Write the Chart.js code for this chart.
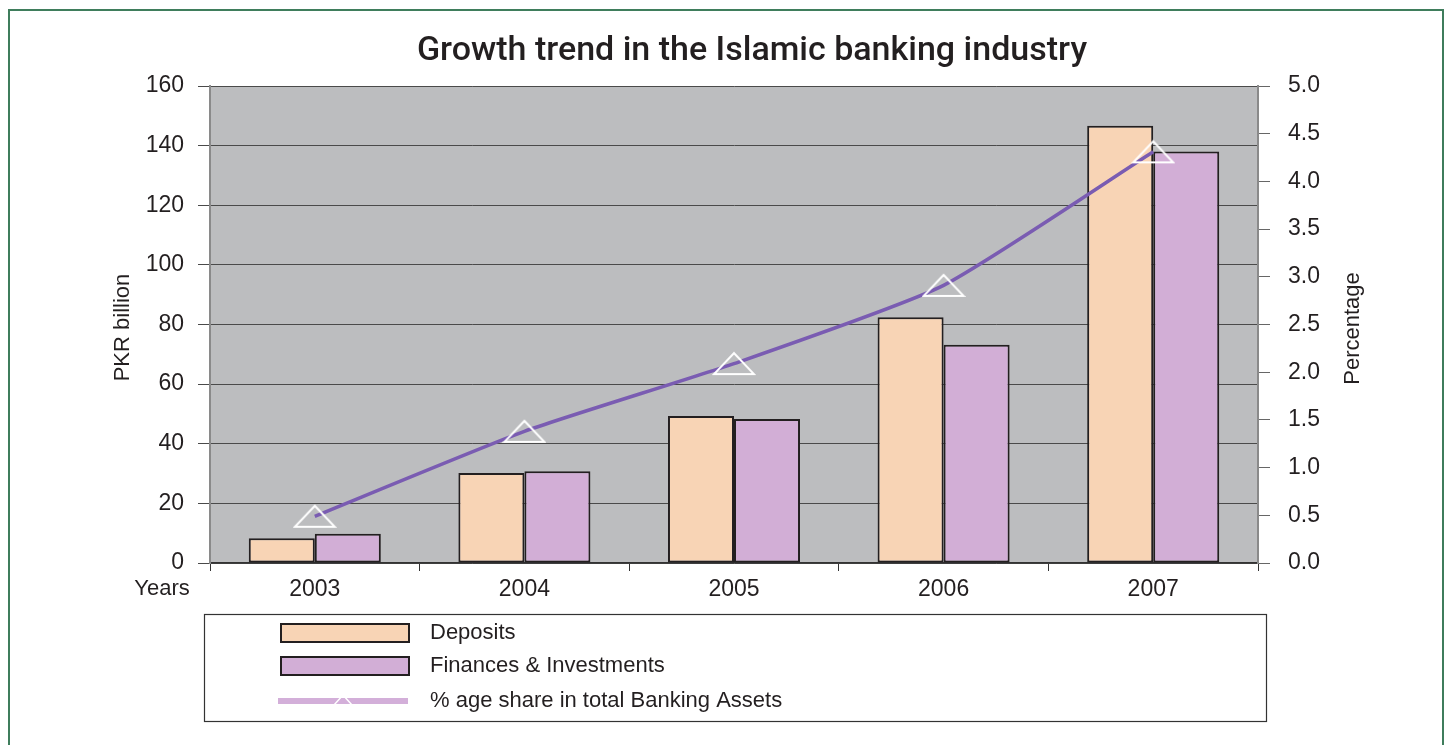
<!DOCTYPE html>
<html>
<head>
<meta charset="utf-8">
<script src="https://cdn.jsdelivr.net/npm/chart.js@4.4.1/dist/chart.umd.min.js"></script>
<style>
  html, body { margin: 0; padding: 0; background: #fff; overflow: hidden; }
  #wrap { position: relative; width: 1451px; height: 745px; }
  #frame { position: absolute; left: 8px; top: 9px; width: 1436px; height: 800px; border: 2px solid #3f7d5c; box-sizing: border-box; }
  canvas { position: absolute; left: 0; top: 0; }
</style>
</head>
<body>
<div id="wrap">
  <div id="frame"></div>
  <canvas id="growthChart" width="1451" height="745"></canvas>
</div>
<script>
const years = ['2003', '2004', '2005', '2006', '2007'];
const deposits = [8.3, 30.2, 49.3, 82.4, 146.7];
const financesInvestments = [9.8, 30.8, 48.3, 73.2, 138];
const bankingShare = [0.49, 1.38, 2.09, 2.91, 4.31];
const leftTicks = [0, 20, 40, 60, 80, 100, 120, 140, 160];
const rightTicks = [0, 0.5, 1, 1.5, 2, 2.5, 3, 3.5, 4, 4.5, 5];

const FONT = "'Liberation Sans', Arial, sans-serif";
const INK = '#231f20';

// flat white triangle used as the marker on the line
function makeTriangle(w, h, lw) {
  const c = document.createElement('canvas');
  c.width = w + 4; c.height = h + 4;
  const g = c.getContext('2d');
  g.strokeStyle = '#ffffff';
  g.lineWidth = lw;
  g.beginPath();
  g.moveTo(c.width / 2, 2);
  g.lineTo(w + 2, h + 2);
  g.lineTo(2, h + 2);
  g.closePath();
  g.stroke();
  return c;
}
const triangle = makeTriangle(40, 21, 2);
const smallTriangle = makeTriangle(18, 10, 1.5);

const decorations = {
  id: 'decorations',
  beforeDraw(chart) {
    const { ctx, chartArea: a } = chart;
    ctx.save();
    ctx.fillStyle = '#bcbdbf';
    ctx.fillRect(a.left, a.top, a.right - a.left, a.bottom - a.top);
    ctx.restore();
  },
  afterDraw(chart) {
    const { ctx, chartArea: a } = chart;
    ctx.save();
    ctx.fillStyle = INK;
    // title
    ctx.font = "500 34px Roboto, " + FONT;
    ctx.textAlign = 'center';
    ctx.textBaseline = 'middle';
    ctx.fillText('Growth trend in the Islamic banking industry', 752, 51);

    ctx.font = '22px ' + FONT;
    ctx.fillText('Years', 162, 589);

    // axis titles, both reading bottom to top
    ctx.translate(123, (a.top + a.bottom) / 2 + 3);
    ctx.rotate(-Math.PI / 2);
    ctx.fillText('PKR billion', 0, 0);
    ctx.restore();

    ctx.save();
    ctx.fillStyle = INK;
    ctx.font = '22px ' + FONT;
    ctx.textAlign = 'center';
    ctx.textBaseline = 'middle';
    ctx.translate(1353, (a.top + a.bottom) / 2 + 4);
    ctx.rotate(-Math.PI / 2);
    ctx.fillText('Percentage', 0, 0);
    ctx.restore();

    // legend box
    ctx.save();
    ctx.strokeStyle = '#333';
    ctx.lineWidth = 1.2;
    ctx.strokeRect(204.5, 614.5, 1062, 107);
    const rows = [633, 666, 701];
    chart.data.datasets.forEach((ds, i) => {
      const y = rows[i];
      if (ds.type === 'line') {
        ctx.fillStyle = '#d3afd9';
        ctx.fillRect(278, y - 3, 130, 6);
        ctx.drawImage(smallTriangle, 343 - smallTriangle.width / 2, y - 8);
      } else {
        ctx.fillStyle = ds.backgroundColor;
        ctx.fillRect(281, y - 9, 128, 18);
        ctx.strokeStyle = INK;
        ctx.lineWidth = 2;
        ctx.strokeRect(281, y - 9, 128, 18);
      }
      ctx.fillStyle = INK;
      ctx.font = '22px ' + FONT;
      ctx.textAlign = 'left';
      ctx.textBaseline = 'middle';
      ctx.fillText(ds.label, 430, y);
    });
    ctx.restore();
  }
};

const ctx = document.getElementById('growthChart').getContext('2d');

new Chart(ctx, {
  type: 'bar',
  data: {
    labels: years,
    datasets: [{
      label: 'Deposits',
      data: deposits,
      backgroundColor: '#f8d4b5',
      borderColor: INK,
      borderWidth: 2,
      borderSkipped: false,
      yAxisID: 'y',
      order: 1
    }, {
      label: 'Finances & Investments',
      data: financesInvestments,
      backgroundColor: '#d2aed6',
      borderColor: INK,
      borderWidth: 2,
      borderSkipped: false,
      yAxisID: 'y',
      order: 1
    }, {
      type: 'line',
      label: '% age share in total Banking Assets',
      data: bankingShare,
      borderColor: '#7a5cb2',
      borderWidth: 3.5,
      tension: 0.18,
      pointStyle: triangle,
      pointRadius: 12,
      yAxisID: 'y1',
      order: 0
    }]
  },
  options: {
    responsive: false,
    animation: false,
    layout: { padding: { top: 86, bottom: 142, left: 0, right: 0 } },
    datasets: { bar: { categoryPercentage: 0.63, barPercentage: 1 } },
    plugins: {
      legend: { display: false },
      tooltip: { enabled: false }
    },
    scales: {
      x: {
        grid: {
          offset: true,
          drawOnChartArea: false,
          drawTicks: true,
          tickLength: 8,
          color: '#333'
        },
        border: { color: '#333', width: 1.5 },
        ticks: { color: INK, font: { family: FONT, size: 23 }, padding: 5 },
        afterFit(scale) { scale.height = 40; }
      },
      y: {
        position: 'left',
        min: 0,
        max: 160,
        afterBuildTicks(scale) { scale.ticks = leftTicks.map(v => ({ value: v })); },
        grid: { color: '#4a4a4a', lineWidth: 1, tickLength: 12 },
        border: { color: '#8a8a8a', width: 2 },
        ticks: { color: INK, font: { family: FONT, size: 23 }, padding: 14 },
        afterFit(scale) { scale.width = 210; }
      },
      y1: {
        position: 'right',
        min: 0,
        max: 5,
        afterBuildTicks(scale) { scale.ticks = rightTicks.map(v => ({ value: v })); },
        grid: { drawOnChartArea: false, color: '#666', tickLength: 12 },
        border: { color: '#8a8a8a', width: 2 },
        ticks: {
          color: INK,
          font: { family: FONT, size: 23 },
          padding: 18,
          callback: v => Number(v).toFixed(1)
        },
        afterFit(scale) { scale.width = 193; }
      }
    }
  },
  plugins: [decorations]
});
</script>
</body>
</html>
